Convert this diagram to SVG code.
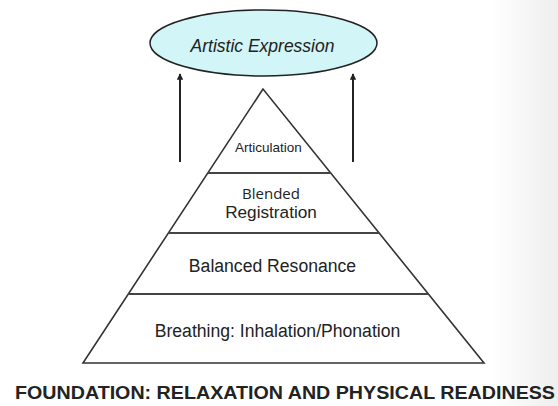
<svg xmlns="http://www.w3.org/2000/svg" width="558" height="406" viewBox="0 0 558 406">
  <defs>
    <linearGradient id="bg" x1="0" y1="0" x2="1" y2="0">
      <stop offset="0" stop-color="#ffffff"/>
      <stop offset="0.88" stop-color="#ffffff"/>
      <stop offset="1" stop-color="#eeeeee"/>
    </linearGradient>
    <marker id="arrow" viewBox="0 0 10 10" refX="9" refY="5" markerWidth="3.2" markerHeight="3.2" orient="auto" markerUnits="strokeWidth">
      <path d="M0,0 L10,5 L0,10 z" fill="#222"/>
    </marker>
    <style>
      .edge { fill: none; stroke: #333; stroke-width: 1.6; }
      .sep { stroke: #444; stroke-width: 1.8; }
      .lbl { font-family: "Liberation Sans", Arial, sans-serif; fill: #222; text-anchor: middle; }
      .conn { stroke: #222; stroke-width: 2; fill: none; }
    </style>
  </defs>
  <rect x="0" y="0" width="558" height="406" fill="url(#bg)"/>

  <g id="connectors">
    <line class="conn" x1="180" y1="162" x2="180" y2="74" marker-end="url(#arrow)"/>
    <line class="conn" x1="353" y1="162" x2="353" y2="74" marker-end="url(#arrow)"/>
  </g>

  <g id="artistic-expression">
    <ellipse cx="263.5" cy="43" rx="113.5" ry="33" fill="#d2f5f7" stroke="#222" stroke-width="1.5"/>
    <text class="lbl" x="262.5" y="52" font-size="17.5" font-style="italic">Artistic Expression</text>
  </g>

  <g id="pyramid">
    <polygon class="edge" points="263,89 83,363 484,363"/>
  </g>

  <g id="articulation">
    <line class="sep" x1="207.8" y1="173" x2="330.8" y2="173"/>
    <text class="lbl" x="268.5" y="152" font-size="13.5">Articulation</text>
  </g>

  <g id="blended-registration">
    <line class="sep" x1="168.4" y1="233" x2="379.1" y2="233"/>
    <text class="lbl" x="271" y="199" font-size="15" style="font-family:'Open Sans','Liberation Sans',sans-serif">Blended</text>
    <text class="lbl" x="271" y="218" font-size="17.2">Registration</text>
  </g>

  <g id="balanced-resonance">
    <line class="sep" x1="128.3" y1="294" x2="428.4" y2="294"/>
    <text class="lbl" x="272.5" y="272" font-size="17.6">Balanced Resonance</text>
  </g>

  <g id="breathing">
    <text class="lbl" x="277.5" y="337" font-size="17.6">Breathing: Inhalation/Phonation</text>
  </g>

  <g id="foundation">
    <text x="15" y="399" font-family="'Liberation Sans', Arial, sans-serif" font-weight="bold" font-size="18.5" fill="#222" textLength="540" lengthAdjust="spacingAndGlyphs">FOUNDATION: RELAXATION AND PHYSICAL READINESS</text>
  </g>
</svg>
